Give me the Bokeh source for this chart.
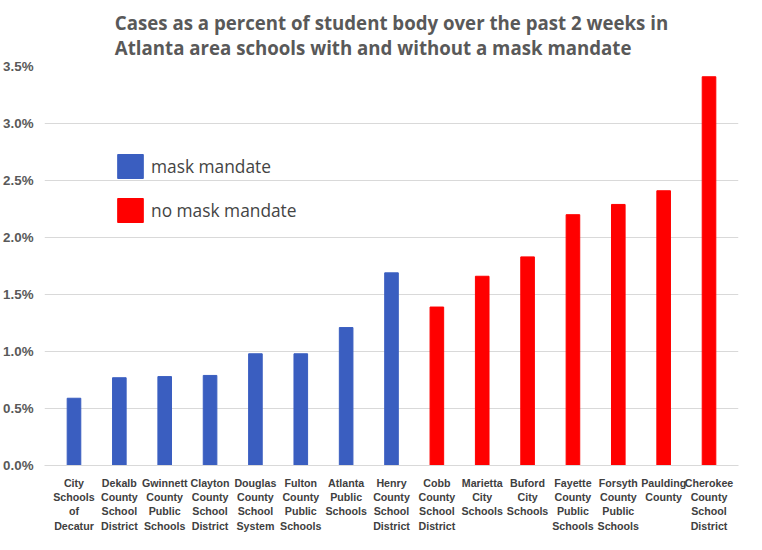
from bokeh.plotting import figure
from bokeh.models import ColumnDataSource, NumeralTickFormatter, Legend, LegendItem, Range1d, FixedTicker
from bokeh.embed import file_html
from bokeh.resources import INLINE

schools = ["City\nSchools\nof\nDecatur", "Dekalb\nCounty\nSchool\nDistrict", "Gwinnett\nCounty\nPublic\nSchools",
           "Clayton\nCounty\nSchool\nDistrict", "Douglas\nCounty\nSchool\nSystem", "Fulton\nCounty\nPublic\nSchools",
           "Atlanta\nPublic\nSchools", "Henry\nCounty\nSchool\nDistrict", "Cobb\nCounty\nSchool\nDistrict",
           "Marietta\nCity\nSchools", "Buford\nCity\nSchools", "Fayette\nCounty\nPublic\nSchools",
           "Forsyth\nCounty\nPublic\nSchools", "Paulding\nCounty", "Cherokee\nCounty\nSchool\nDistrict"]
values = [0.0059, 0.0077, 0.0078, 0.0079, 0.0098, 0.0098, 0.0121, 0.0169,
          0.0139, 0.0166, 0.0183, 0.0220, 0.0229, 0.0241, 0.0341]
mandate = [True] * 8 + [False] * 7

BLUE = "#3A5EC0"
RED = "#FF0000"

p = figure(x_range=schools, width=746, height=534, output_backend="svg", toolbar_location=None,
           title="Cases as a percent of student body over the past 2 weeks in\nAtlanta area schools with and without a mask mandate",
           min_border_left=10, min_border_right=8, min_border_bottom=2, min_border_top=4)
p.title.text_font = "Open Sans"
p.title.text_font_size = "14pt"
p.title.text_font_style = "bold"
p.title.text_color = "#595959"
p.title.align = "center"
p.title.standoff = 14

src_m = ColumnDataSource(dict(x=[s for s, m in zip(schools, mandate) if m], top=[v for v, m in zip(values, mandate) if m]))
src_n = ColumnDataSource(dict(x=[s for s, m in zip(schools, mandate) if not m], top=[v for v, m in zip(values, mandate) if not m]))
r1 = p.vbar(x="x", top="top", width=0.3, source=src_m, color=BLUE)
r2 = p.vbar(x="x", top="top", width=0.3, source=src_n, color=RED)

p.y_range = Range1d(0, 0.035)
p.x_range.range_padding = 0.02
p.yaxis.ticker = FixedTicker(ticks=[i * 0.005 for i in range(8)])
p.yaxis.formatter = NumeralTickFormatter(format="0.0%")
p.yaxis.axis_line_color = None
p.yaxis.major_tick_line_color = None
p.yaxis.minor_tick_line_color = None
p.yaxis.major_label_text_font_size = "10pt"
p.yaxis.major_label_text_font_style = "bold"
p.yaxis.major_label_text_color = "#595959"
p.xaxis.major_label_text_font_size = "8pt"
p.xaxis.major_label_text_font_style = "bold"
p.xaxis.major_label_text_color = "#404040"
p.xaxis.major_tick_line_color = None
p.xaxis.axis_line_color = "#D9D9D9"
p.xgrid.grid_line_color = None
p.ygrid.grid_line_color = "#D9D9D9"
p.outline_line_color = None

legend = Legend(items=[LegendItem(label="mask mandate", renderers=[r1]),
                       LegendItem(label="no mask mandate", renderers=[r2])],
                location=(70, 240), glyph_width=32, glyph_height=30, spacing=14,
                label_text_font_size="13pt", label_text_font="Open Sans",
                border_line_color=None, background_fill_alpha=0)
p.add_layout(legend)

open("out.html", "w").write(file_html(p, INLINE))
